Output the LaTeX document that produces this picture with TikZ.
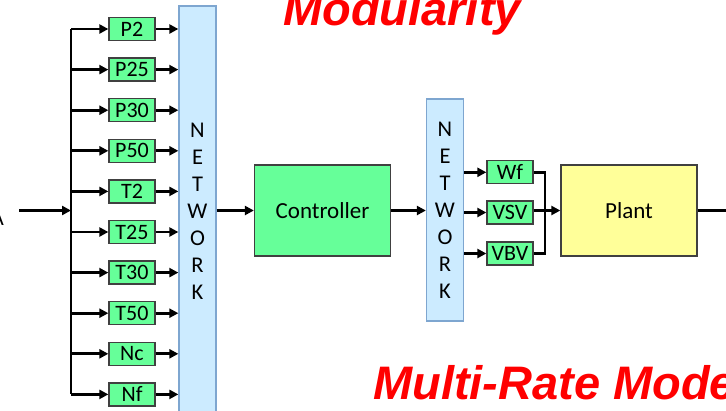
\documentclass[tikz,border=0pt]{standalone}
\usepackage{fontspec}
\setmainfont{Carlito}
\newfontfamily\titlefont{Liberation Sans}
\usetikzlibrary{arrows.meta}
\definecolor{boxgreen}{HTML}{66FF99}
\definecolor{plantyellow}{HTML}{FFFF99}
\definecolor{netfill}{HTML}{CCEBFF}
\definecolor{netdraw}{HTML}{7EA6D0}
\definecolor{boxdraw}{HTML}{404040}
\tikzset{
  sig/.style={draw=boxdraw, line width=1.3pt, fill=boxgreen, minimum width=46pt, minimum height=23pt, inner sep=0pt, font=\fontsize{22}{22}\selectfont},
  bigbox/.style={draw=boxdraw, line width=1.3pt, minimum width=136pt, minimum height=91pt, inner sep=0pt, font=\fontsize{23}{23}\selectfont},
  netbox/.style={draw=netdraw, line width=1.3pt, fill=netfill, minimum width=37pt, inner sep=0pt, align=center, font=\fontsize{22.5}{27}\selectfont},
  arr/.style={line width=2.8pt, -{Triangle[length=9pt,width=9pt]}},
  wire/.style={line width=2.8pt},
  title/.style={text=red, font=\titlefont\bfseries\itshape\fontsize{47}{50}\selectfont, inner sep=0pt}
}
\begin{document}
\begin{tikzpicture}[x=1pt,y=-1pt]
\useasboundingbox (0,0) rectangle (726,410);
% titles
\node[title, anchor=base] (mod) at (402,25) {Modularity};
\node[title, anchor=base west] (mrm) at (373,399) {Multi-Rate Mode};
% partial letter on left
\node[anchor=base east, inner sep=0pt, font=\fontsize{22}{22}\selectfont] (lbl) at (4,225) {A};
% first network
\node[netbox, minimum height=410pt] (net1) at (197.5,211) {N\\E\\T\\W\\O\\R\\K};
% sensor boxes
\foreach \n [count=\k from 0] in {P2,P25,P30,P50,T2,T25,T30,T50,Nc,Nf} {
  \node[sig] (\n) at (132,{29+40.6*\k}) {\n};
}
\coordinate (bus) at (71,210.5);
\coordinate (in) at (19,210.5);
\draw[wire] (P2.west -| bus) -- (Nf.west -| bus);
\draw[arr] (in) -- (bus);
\foreach \n in {P2,P25,P30,P50,T2,T25,T30,T50,Nc,Nf} {
  \draw[arr] (\n.west -| bus) -- (\n.west);
  \draw[arr] (\n.east) -- (\n.east -| net1.west);
}
% controller
\node[bigbox, fill=boxgreen] (ctrl) at (322.5,210.5) {Controller};
\draw[arr] (ctrl.west -| net1.east) -- (ctrl.west);
% second network
\node[netbox, minimum height=222pt] (net2) at (445,210) {N\\E\\T\\W\\O\\R\\K};
\draw[arr] (ctrl.east) -- (ctrl.east -| net2.west);
% actuators
\node[sig] (Wf) at (510,172.3) {Wf};
\node[sig] (VSV) at (510,212.5) {VSV};
\node[sig] (VBV) at (510,253.5) {VBV};
\foreach \n in {Wf,VSV,VBV} {
  \draw[arr] (\n.west -| net2.east) -- (\n.west);
}
% plant
\node[bigbox, fill=plantyellow] (plant) at (629,210.5) {Plant};
\coordinate (abus) at (545,210.5);
\draw[wire] (Wf.east) -| (abus);
\draw[wire] (VBV.east) -| (abus);
\draw[arr] (VSV.east |- plant.west) -- (plant.west);
\coordinate (out) at (730,210.5);
\draw[wire] (plant.east) -- (out);
\end{tikzpicture}
\end{document}
